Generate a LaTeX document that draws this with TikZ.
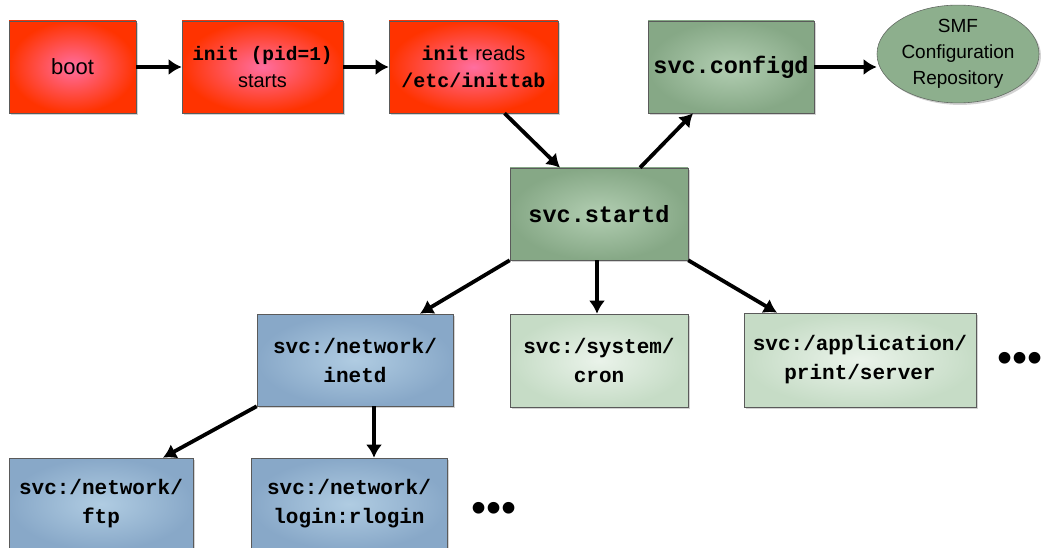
\documentclass[tikz,border=0pt]{standalone}
\usepackage{fontspec}
\setmainfont{Liberation Sans}
\setmonofont{Liberation Mono}
\usetikzlibrary{arrows.meta,shadows,shapes.geometric}
\definecolor{bootred}{RGB}{255,51,0}
\definecolor{bootpink}{RGB}{255,110,160}
\definecolor{daemongreen}{RGB}{134,168,134}
\definecolor{daemonlight}{RGB}{178,206,178}
\definecolor{svcgreen}{RGB}{198,220,198}
\definecolor{svclight}{RGB}{234,243,234}
\definecolor{netblue}{RGB}{136,168,200}
\definecolor{netlight}{RGB}{176,204,226}
\definecolor{repogreen}{RGB}{141,175,141}
\definecolor{boxedge}{RGB}{90,90,90}
\def\ttb#1{{\ttfamily\bfseries #1}}
\tikzset{
	anybox/.style={draw=boxedge, line width=0.6pt, shading=radial, inner sep=0pt, align=center,
		minimum height=92pt, drop shadow={shadow xshift=2pt, shadow yshift=-2pt, opacity=0.35},
		font=\fontsize{21}{29}\selectfont\ttfamily\bfseries},
	redbox/.style={anybox, inner color=bootpink, outer color=bootred, font=\fontsize{20}{27}\selectfont},
	daemonbox/.style={anybox, inner color=daemonlight, outer color=daemongreen, font=\fontsize{23.5}{29}\selectfont\ttfamily\bfseries},
	svcbox/.style={anybox, inner color=svclight, outer color=svcgreen},
	netbox/.style={anybox, inner color=netlight, outer color=netblue},
	flow/.style={line width=3.8pt, -{Latex[length=13pt,width=16pt]}},
	moredots/.style={font=\fontsize{43}{43}\selectfont, inner sep=0pt},
}
\begin{document}
\begin{tikzpicture}[x=1pt, y=-1pt]
		%%%%% START %%%%%
		\useasboundingbox (0, 0) rectangle (1041, 548);
		
		% boot sequence
		\node[redbox, minimum width=127pt, font=\fontsize{22}{27}\selectfont] (boot) at (72.5, 67) {boot};
		\node[redbox, minimum width=161pt] (initpid) at (262.5, 67) {{\fontsize{19.5}{27}\selectfont\ttb{init (pid=1)}}\\starts};
		\node[redbox, minimum width=169pt] (inittab) at (473.5, 67) {\ttb{init} reads\\\ttb{/etc/inittab}};
		
		% restarter and repository
		\node[daemonbox, minimum width=178pt] (startd) at (599, 214) {svc.startd};
		\node[daemonbox, minimum width=166pt] (configd) at (731, 67) {svc.configd};
		\node[draw=boxedge!80!repogreen, line width=0.6pt, ellipse, fill=repogreen, inner sep=0pt,
			minimum width=162pt, minimum height=92pt, align=center, font=\fontsize{19}{26}\selectfont,
			drop shadow={shadow xshift=2pt, shadow yshift=-2pt, opacity=0.35}] (repo) at (958, 54)
			{SMF\\Configuration\\Repository};
		
		% services
		\node[netbox, minimum width=196pt] (inetd) at (355, 360) {svc:/network/\\inetd};
		\node[svcbox, minimum width=178pt, minimum height=93pt] (cron) at (599, 360.5) {svc:/system/\\cron};
		\node[svcbox, minimum width=232pt, minimum height=94pt] (print) at (860, 360) {svc:/application/\\print/server};
		\node[moredots] (moresvc) at (1020, 362) {•••};
		
		\node[netbox, minimum width=184pt] (ftp) at (101, 504) {svc:/network/\\ftp};
		\node[netbox, minimum width=196pt] (rlogin) at (349, 504) {svc:/network/\\login:rlogin};
		\node[moredots] (morenet) at (494, 512) {•••};
		
		% arrows
		\draw[flow] (boot) -- (initpid);
		\draw[flow] (initpid) -- (inittab);
		\draw[flow] ([xshift=31pt]inittab.south) -- ([xshift=-39pt]startd.north);
		\draw[flow] ([xshift=41pt]startd.north) -- ([xshift=-38pt]configd.south);
		\draw[flow] (configd.east) -- (repo.west |- configd.east);
		
		\draw[flow] (startd.south west) -- ([xshift=65pt]inetd.north);
		\draw[flow] ([xshift=-2pt]startd.south) -- ([xshift=-2pt]cron.north);
		\draw[flow] (startd.south east) -- ([xshift=-83pt]print.north);
		
		\draw[flow] (inetd.south west) -- ([xshift=62pt]ftp.north);
		\draw[flow] ([xshift=19pt]inetd.south) -- ([xshift=19pt]inetd.south |- rlogin.north);
		%%%%% END %%%%%
\end{tikzpicture}
\end{document}
